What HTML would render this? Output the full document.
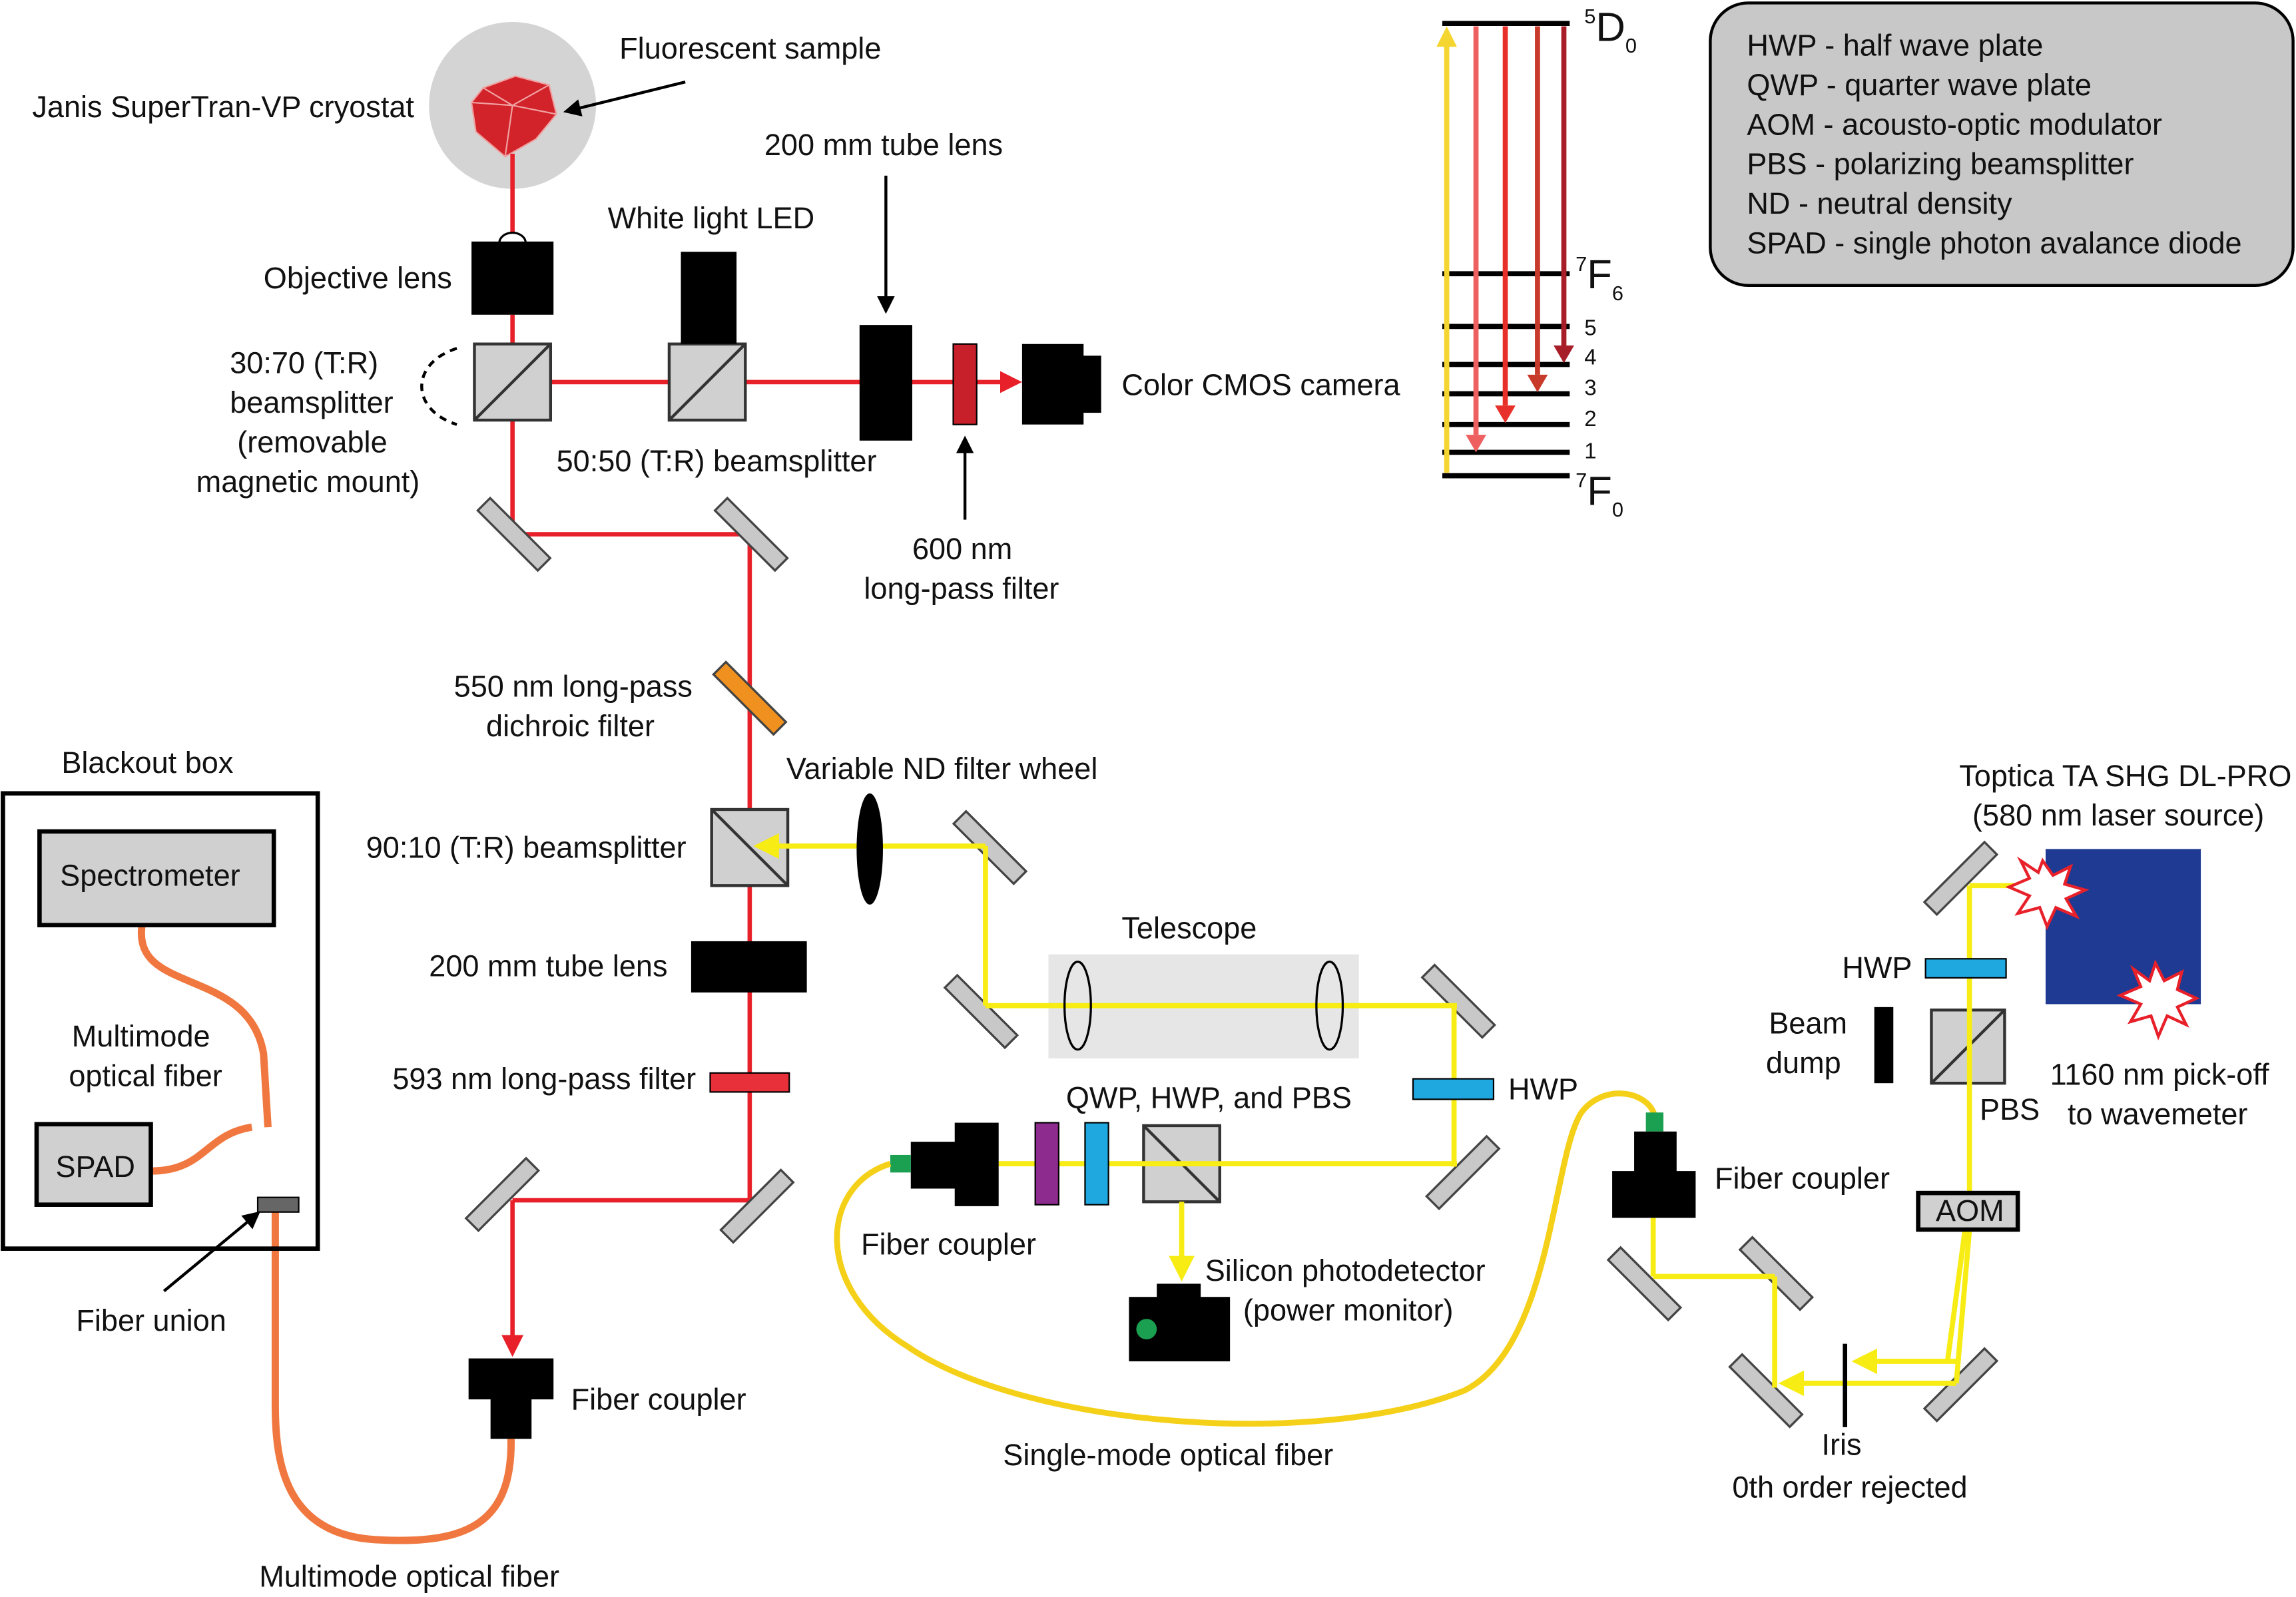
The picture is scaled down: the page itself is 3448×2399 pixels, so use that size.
<!DOCTYPE html>
<html><head><meta charset="utf-8"><style>
html,body{margin:0;padding:0;background:#fff;}
svg{display:block;}
text{font-family:"Liberation Sans",sans-serif;font-size:20.5px;fill:#111;}
</style></head><body>
<svg width="3448" height="2399" viewBox="0 0 1568 1091" preserveAspectRatio="none" xmlns="http://www.w3.org/2000/svg">
<defs>
<marker id="ar" viewBox="0 0 10 10" refX="8" refY="5" markerWidth="5" markerHeight="5" orient="auto"><path d="M0,0L10,5L0,10z" fill="#e8202a"/></marker>
<marker id="ay" viewBox="0 0 10 10" refX="8" refY="5" markerWidth="5" markerHeight="5" orient="auto"><path d="M0,0L10,5L0,10z" fill="#f7ec13"/></marker>
<marker id="ak" viewBox="0 0 10 10" refX="8" refY="5" markerWidth="6" markerHeight="6" orient="auto"><path d="M0,0L10,5L0,10z" fill="#000"/></marker>
</defs>
<!-- cryostat -->
<circle cx="350" cy="72" r="57" fill="#d4d4d4"/>
<polygon points="330,60 352,52 375,58 380,78 366,95 345,107 325,90 322,70" fill="#d2232a" stroke="#f0a0a0" stroke-width="1"/>
<path d="M330,60 L350,72 L375,58 M350,72 L345,107 M350,72 L322,70 M350,72 L380,78" stroke="#f0a0a0" stroke-width="1" fill="none"/>
<text x="22" y="80">Janis SuperTran-VP cryostat</text>
<text x="423" y="40">Fluorescent sample</text>
<line x1="468" y1="56" x2="387" y2="76" stroke="#000" stroke-width="2" marker-end="url(#ak)"/>
<!-- red beams -->
<g stroke="#e8202a" stroke-width="3" fill="none">
<line x1="350" y1="105" x2="350" y2="165"/>
<line x1="350" y1="215" x2="350" y2="365"/>
<line x1="350" y1="365" x2="512" y2="365"/>
<line x1="376" y1="261" x2="695" y2="261" marker-end="url(#ar)"/>
<line x1="512" y1="365" x2="512" y2="820"/>
<line x1="350" y1="820" x2="512" y2="820"/>
<line x1="350" y1="820" x2="350" y2="924" marker-end="url(#ar)"/>
</g>
<!-- objective -->
<path d="M341,166 A9,7 0 0 1 359,166" fill="#fff" stroke="#000" stroke-width="1.5"/>
<rect x="322" y="165" width="56" height="50" fill="#000"/>
<text x="180" y="197">Objective lens</text>
<!-- cubes -->
<g fill="#d0d0d0" stroke="#333" stroke-width="2">
<rect x="324" y="235" width="52" height="52"/><line x1="324" y1="287" x2="376" y2="235"/>
<rect x="457" y="235" width="52" height="52"/><line x1="457" y1="287" x2="509" y2="235"/>
<rect x="486" y="553" width="52" height="52"/><line x1="486" y1="553" x2="538" y2="605"/>
<rect x="781" y="769" width="52" height="52"/><line x1="781" y1="769" x2="833" y2="821"/>
<rect x="1319" y="690" width="50" height="50"/><line x1="1319" y1="740" x2="1369" y2="690"/>
</g>
<rect x="465" y="172" width="38" height="63" fill="#000"/>
<rect x="587" y="222" width="36" height="79" fill="#000"/>
<rect x="651" y="235" width="16" height="55" fill="#c8202a" stroke="#000" stroke-width="1"/>
<rect x="698" y="235" width="42" height="55" fill="#000"/><rect x="738" y="243" width="14" height="39" fill="#000"/>
<text x="157" y="255">30:70 (T:R)</text>
<text x="157" y="282">beamsplitter</text>
<text x="162" y="309">(removable</text>
<text x="134" y="336">magnetic mount)</text>
<path d="M312,238 C280,248 280,280 312,290" fill="none" stroke="#000" stroke-width="2" stroke-dasharray="5,4"/>
<text x="415" y="156">White light LED</text>
<text x="522" y="106">200 mm tube lens</text>
<line x1="605" y1="120" x2="605" y2="212" stroke="#000" stroke-width="2" marker-end="url(#ak)"/>
<text x="380" y="322">50:50 (T:R) beamsplitter</text>
<text x="623" y="382">600 nm</text>
<text x="590" y="409">long-pass filter</text>
<line x1="659" y1="355" x2="659" y2="300" stroke="#000" stroke-width="2" marker-end="url(#ak)"/>
<text x="766" y="270">Color CMOS camera</text>
<!-- mirrors -->
<g stroke="#444" stroke-width="1.5" fill="#c8c8c8">
<g transform="translate(351,365) rotate(45)"><rect x="-29" y="-6" width="58" height="12"/></g>
<g transform="translate(513,365) rotate(45)"><rect x="-29" y="-6" width="58" height="12"/></g>
<g transform="translate(343,816) rotate(-45)"><rect x="-29" y="-6" width="58" height="12"/></g>
<g transform="translate(517,824) rotate(-45)"><rect x="-29" y="-6" width="58" height="12"/></g>
<g transform="translate(676,579) rotate(45)"><rect x="-29" y="-6" width="58" height="12"/></g>
<g transform="translate(670,691) rotate(45)"><rect x="-29" y="-6" width="58" height="12"/></g>
<g transform="translate(996,684) rotate(45)"><rect x="-29" y="-6" width="58" height="12"/></g>
<g transform="translate(999,801) rotate(-45)"><rect x="-29" y="-6" width="58" height="12"/></g>
<g transform="translate(1123,877) rotate(45)"><rect x="-29" y="-6" width="58" height="12"/></g>
<g transform="translate(1213,870) rotate(45)"><rect x="-29" y="-6" width="58" height="12"/></g>
<g transform="translate(1206,950) rotate(45)"><rect x="-29" y="-6" width="58" height="12"/></g>
<g transform="translate(1339,946) rotate(-45)"><rect x="-29" y="-6" width="58" height="12"/></g>
<g transform="translate(1339,600) rotate(-45)"><rect x="-29" y="-6" width="58" height="12"/></g>
</g>
<g transform="translate(512,477) rotate(45)"><rect x="-29" y="-6" width="58" height="12" fill="#f0901e" stroke="#444" stroke-width="1.5"/></g>
<text x="310" y="476">550 nm long-pass</text>
<text x="332" y="503">dichroic filter</text>
<!-- telescope -->
<rect x="716" y="652" width="212" height="71" fill="#e6e6e6"/>
<text x="766" y="641">Telescope</text>
<!-- yellow beams -->
<g stroke="#f7ec13" stroke-width="3.5" fill="none">
<line x1="673" y1="578" x2="518" y2="578" marker-end="url(#ay)"/>
<line x1="673" y1="578" x2="673" y2="687"/>
<line x1="673" y1="687" x2="995" y2="687"/>
<line x1="993" y1="687" x2="993" y2="797"/>
<line x1="682" y1="795" x2="995" y2="795"/>
<line x1="807" y1="821" x2="807" y2="872" marker-end="url(#ay)"/>
<line x1="1129" y1="832" x2="1129" y2="872"/>
<line x1="1129" y1="872" x2="1212" y2="872"/>
<line x1="1212" y1="872" x2="1212" y2="948"/>
<line x1="1336" y1="945" x2="1218" y2="945" marker-end="url(#ay)"/>
<line x1="1336" y1="930" x2="1268" y2="930" marker-end="url(#ay)"/>
<line x1="1345" y1="840" x2="1336" y2="945"/>
<line x1="1342" y1="840" x2="1330" y2="930"/>
<line x1="1345" y1="605" x2="1345" y2="815"/>
<line x1="1345" y1="605" x2="1400" y2="605"/>
</g>
<ellipse cx="736" cy="687" rx="9" ry="30" fill="none" stroke="#000" stroke-width="1.5"/>
<ellipse cx="908" cy="687" rx="9" ry="30" fill="none" stroke="#000" stroke-width="1.5"/>
<ellipse cx="594" cy="580" rx="9" ry="38" fill="#000"/>
<text x="537" y="532">Variable ND filter wheel</text>
<text x="250" y="586">90:10 (T:R) beamsplitter</text>
<rect x="965" y="737" width="55" height="14" fill="#1fa8e0" stroke="#000" stroke-width="1"/>
<text x="1030" y="751">HWP</text>
<rect x="741" y="767" width="16" height="56" fill="#1fa8e0" stroke="#000" stroke-width="1"/>
<rect x="707" y="767" width="16" height="56" fill="#8e2b8e" stroke="#000" stroke-width="1"/>
<rect x="652" y="767" width="30" height="57" fill="#000"/><rect x="622" y="780" width="32" height="32" fill="#000"/>
<rect x="608" y="789" width="14" height="12" fill="#1aa050"/>
<text x="728" y="757">QWP, HWP, and PBS</text>
<text x="588" y="857">Fiber coupler</text>
<rect x="790" y="877" width="30" height="10" fill="#000"/><rect x="771" y="886" width="69" height="44" fill="#000"/>
<circle cx="783" cy="908" r="7" fill="#1aa050"/>
<text x="823" y="875">Silicon photodetector</text>
<text x="849" y="902">(power monitor)</text>
<!-- red lower -->
<rect x="472" y="643" width="79" height="35" fill="#000"/>
<text x="293" y="667">200 mm tube lens</text>
<rect x="485" y="733" width="54" height="13" fill="#e8303a" stroke="#000" stroke-width="1"/>
<text x="268" y="744">593 nm long-pass filter</text>
<rect x="320" y="928" width="58" height="28" fill="#000"/><rect x="335" y="955" width="28" height="28" fill="#000"/>
<text x="390" y="963">Fiber coupler</text>
<!-- orange fibers -->
<g stroke="#f07840" stroke-width="5" fill="none">
<path d="M349,983 C350,1040 320,1055 260,1052 C195,1050 188,1000 188,960 L188,828"/>
<path d="M97,632 C90,680 170,660 180,720 L183,770"/>
<path d="M103,800 C140,800 140,775 172,770"/>
</g>
<text x="177" y="1084">Multimode optical fiber</text>
<rect x="2" y="542" width="215" height="311" fill="none" stroke="#000" stroke-width="3"/>
<text x="42" y="528">Blackout box</text>
<rect x="27" y="568" width="160" height="64" fill="#d0d0d0" stroke="#000" stroke-width="3"/>
<text x="41" y="605">Spectrometer</text>
<text x="49" y="715">Multimode</text>
<text x="47" y="742">optical fiber</text>
<rect x="25" y="768" width="78" height="55" fill="#d0d0d0" stroke="#000" stroke-width="3"/>
<text x="38" y="804">SPAD</text>
<rect x="176" y="818" width="28" height="10" fill="#666" stroke="#000" stroke-width="1"/>
<text x="52" y="909">Fiber union</text>
<line x1="112" y1="882" x2="176" y2="829" stroke="#000" stroke-width="2" marker-end="url(#ak)"/>
<!-- single-mode fiber -->
<path d="M608,795 C560,810 555,880 620,920 C700,975 900,990 1000,950 C1060,920 1060,790 1080,760 C1095,740 1125,745 1130,762" fill="none" stroke="#f5d018" stroke-width="4"/>
<text x="685" y="1001">Single-mode optical fiber</text>
<rect x="1124" y="760" width="12" height="13" fill="#1aa050"/>
<rect x="1116" y="773" width="29" height="28" fill="#000"/><rect x="1101" y="800" width="57" height="32" fill="#000"/>
<text x="1171" y="812">Fiber coupler</text>
<line x1="1260" y1="918" x2="1260" y2="975" stroke="#000" stroke-width="3"/>
<text x="1244" y="994">Iris</text>
<text x="1183" y="1023">0th order rejected</text>
<rect x="1310" y="815" width="68" height="25" fill="#d0d0d0" stroke="#000" stroke-width="3"/>
<text x="1322" y="834">AOM</text>
<rect x="1315" y="655" width="55" height="13" fill="#1fa8e0" stroke="#000" stroke-width="1"/>
<text x="1258" y="668">HWP</text>
<rect x="1280" y="688" width="13" height="52" fill="#000"/>
<text x="1208" y="706">Beam</text>
<text x="1206" y="733">dump</text>
<text x="1352" y="765">PBS</text>
<rect x="1397" y="580" width="106" height="106" fill="#1f3a93"/>
<polygon points="1395,588 1402,598 1414,592 1410,604 1424,608 1411,614 1418,626 1404,620 1398,633 1393,620 1378,624 1386,612 1372,606 1386,600 1380,588 1392,596" fill="#fff" stroke="#e8202a" stroke-width="2"/>
<polygon points="1472,658 1478,670 1490,664 1487,676 1500,682 1487,688 1493,700 1480,694 1474,708 1469,694 1455,698 1462,686 1448,680 1462,674 1457,662 1468,670" fill="#fff" stroke="#e8202a" stroke-width="2"/>
<text x="1338" y="537">Toptica TA SHG DL-PRO</text>
<text x="1347" y="564">(580 nm laser source)</text>
<text x="1400" y="741">1160 nm pick-off</text>
<text x="1412" y="768">to wavemeter</text>
<!-- energy levels -->
<g stroke="#000" stroke-width="3.5">
<line x1="985" y1="16" x2="1072" y2="16"/>
<line x1="985" y1="187" x2="1072" y2="187"/>
<line x1="985" y1="223" x2="1072" y2="223"/>
<line x1="985" y1="249" x2="1072" y2="249"/>
<line x1="985" y1="269" x2="1072" y2="269"/>
<line x1="985" y1="290" x2="1072" y2="290"/>
<line x1="985" y1="309" x2="1072" y2="309"/>
<line x1="985" y1="325" x2="1072" y2="325"/>
</g>
<line x1="988" y1="323" x2="988" y2="30" stroke="#f5d530" stroke-width="3.5"/><polygon points="981,32 995,32 988,18" fill="#f5d530"/>
<line x1="1008" y1="18" x2="1008" y2="297" stroke="#ee6060" stroke-width="3.5"/><polygon points="1001,297 1015,297 1008,309" fill="#ee6060"/>
<line x1="1028" y1="18" x2="1028" y2="277" stroke="#e8302a" stroke-width="3.5"/><polygon points="1021,277 1035,277 1028,289" fill="#e8302a"/>
<line x1="1050" y1="18" x2="1050" y2="256" stroke="#c83a2a" stroke-width="3.5"/><polygon points="1043,256 1057,256 1050,268" fill="#c83a2a"/>
<line x1="1068" y1="18" x2="1068" y2="236" stroke="#a81e28" stroke-width="3.5"/><polygon points="1061,236 1075,236 1068,248" fill="#a81e28"/>
<text x="1082" y="28" style="font-size:28px"><tspan style="font-size:14px" dy="-12">5</tspan><tspan dy="12">D</tspan><tspan style="font-size:14px" dy="8">0</tspan></text>
<text x="1076" y="197" style="font-size:28px"><tspan style="font-size:14px" dy="-12">7</tspan><tspan dy="12">F</tspan><tspan style="font-size:14px" dy="8">6</tspan></text>
<text x="1082" y="229" style="font-size:15px">5</text>
<text x="1082" y="249" style="font-size:15px">4</text>
<text x="1082" y="270" style="font-size:15px">3</text>
<text x="1082" y="291" style="font-size:15px">2</text>
<text x="1082" y="313" style="font-size:15px">1</text>
<text x="1076" y="345" style="font-size:28px"><tspan style="font-size:14px" dy="-12">7</tspan><tspan dy="12">F</tspan><tspan style="font-size:14px" dy="8">0</tspan></text>
<!-- legend -->
<rect x="1168" y="2" width="398" height="193" rx="26" fill="#c8c8c8" stroke="#000" stroke-width="2"/>
<text x="1193" y="38">HWP - half wave plate</text>
<text x="1193" y="65">QWP - quarter wave plate</text>
<text x="1193" y="92">AOM - acousto-optic modulator</text>
<text x="1193" y="119">PBS - polarizing beamsplitter</text>
<text x="1193" y="146">ND - neutral density</text>
<text x="1193" y="173">SPAD - single photon avalance diode</text>
</svg>
</body></html>
